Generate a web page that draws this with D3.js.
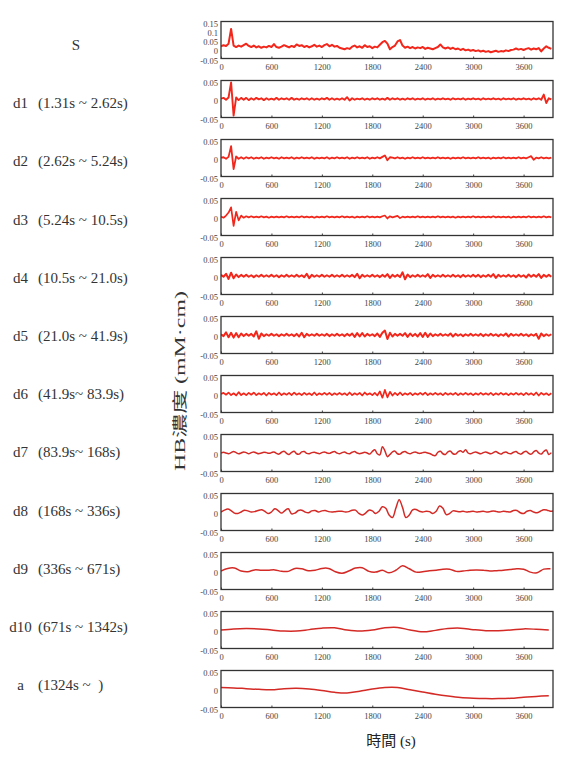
<!DOCTYPE html>
<html>
<head>
<meta charset="utf-8">
<script src="https://cdn.jsdelivr.net/npm/d3@7"></script>
<style>
  body { margin: 0; background: #fff; }
  .tick text { font-family: "Liberation Serif", serif; font-size: 8.5px; fill: #444; }
</style>
</head>
<body>
<svg id="chart" width="563" height="762"></svg>
<script>
// tick values
const xTicks = [0, 600, 1200, 1800, 2400, 3000, 3600];
const yTicksS = [-0.05, 0, 0.05, 0.1, 0.15];
const yTicksD = [-0.05, 0, 0.05];

// row labels
const bandNames = ["S", "d1", "d2", "d3", "d4", "d5", "d6", "d7", "d8", "d9", "d10", "a"];
const bandRanges = ["", "(1.31s ~ 2.62s)", "(2.62s ~ 5.24s)", "(5.24s ~ 10.5s)", "(10.5s ~ 21.0s)",
  "(21.0s ~ 41.9s)", "(41.9s~ 83.9s)", "(83.9s~ 168s)", "(168s ~ 336s)", "(336s ~ 671s)",
  "(671s ~ 1342s)", "(1324s ~  )"];

// sample interval (s) of each row
const steps = [30, 30, 30, 30, 30, 30, 30, 30, 40, 80, 150, 150];

// signals
const sigS = [0.015,0.022,0.018,0.03,0.11,0.02,0.012,0.02,0.014,0.022,0.03,0.018,
  0.012,0.02,0.01,0.016,0.008,0.014,0.01,0.018,0.012,0.028,0.012,0.008,
  0.014,0.022,0.016,0.01,0.018,0.012,0.026,0.018,0.022,0.012,0.018,0.01,
  0.016,0.024,0.014,0.02,0.012,0.022,0.028,0.016,0.024,0.014,0.018,0.008,
  0.004,0.0,0.006,0.002,0.014,0.02,0.01,0.016,0.008,0.022,0.012,0.016,
  0.006,0.014,0.01,0.024,0.038,0.045,0.03,0.0,0.012,0.02,0.042,0.05,
  0.02,0.008,0.014,0.006,0.012,0.004,0.01,0.006,0.012,0.002,0.008,0.004,
  0.0,0.006,0.012,0.026,0.01,0.004,0.01,0.002,0.008,0.0,0.004,-0.004,
  0.002,-0.006,-0.002,-0.008,-0.004,-0.01,-0.006,-0.012,-0.008,-0.014,-0.01,-0.016,
  -0.012,-0.008,-0.014,-0.01,-0.012,-0.006,-0.01,-0.004,-0.002,0.004,-0.002,0.002,
  -0.004,0.002,0.006,-0.002,0.004,0.0,0.006,-0.012,0.004,0.016,0.008,0.002];

const sigD1 = [0.001,0.003,-0.002,0.004,0.045,-0.045,0.004,-0.003,0.003,-0.002,0.003,-0.003,
  0.002,-0.002,0.003,-0.001,0.002,-0.003,0.002,-0.002,0.001,-0.002,0.003,-0.002,
  0.002,-0.001,0.002,-0.002,0.003,-0.002,0.001,-0.002,0.002,-0.001,0.002,-0.002,
  0.002,-0.002,0.001,-0.002,0.002,-0.001,0.003,-0.002,0.002,-0.002,0.001,-0.002,
  0.002,-0.002,0.005,-0.004,0.002,-0.002,0.001,-0.001,0.002,-0.002,0.001,-0.002,
  0.002,-0.001,0.002,-0.002,0.001,-0.002,0.003,-0.002,0.002,-0.001,0.002,-0.002,
  0.001,-0.002,0.002,-0.001,0.002,-0.002,0.001,-0.001,0.002,-0.002,0.001,-0.001,
  0.002,-0.002,0.001,-0.001,0.002,-0.001,0.001,-0.002,0.002,-0.001,0.001,-0.001,
  0.002,-0.002,0.001,-0.001,0.002,-0.001,0.001,-0.002,0.002,-0.001,0.001,-0.001,
  0.002,-0.001,0.001,-0.002,0.002,-0.001,0.001,-0.001,0.002,-0.002,0.001,-0.001,
  0.002,-0.001,0.001,-0.002,0.002,-0.001,0.002,-0.002,0.012,-0.011,0.002,-0.001];

const sigD2 = [0.001,0.002,-0.002,0.003,0.032,-0.03,0.004,-0.002,0.002,-0.002,0.002,-0.001,
  0.002,-0.002,0.001,-0.001,0.002,-0.002,0.001,-0.001,0.002,-0.001,0.001,-0.002,
  0.002,-0.001,0.001,-0.001,0.002,-0.002,0.001,-0.001,0.002,-0.001,0.001,-0.001,
  0.002,-0.002,0.001,-0.001,0.001,-0.001,0.002,-0.002,0.001,-0.001,0.002,-0.001,
  0.001,-0.001,0.002,-0.002,0.001,-0.001,0.002,-0.001,0.001,-0.001,0.002,-0.002,
  0.001,-0.001,0.002,-0.001,0.003,0.007,-0.006,0.002,0.001,-0.001,0.002,-0.001,
  0.001,-0.002,0.001,-0.001,0.002,-0.001,0.001,-0.001,0.002,-0.001,0.001,-0.001,
  0.001,-0.001,0.002,-0.001,0.001,-0.001,0.001,-0.002,0.001,-0.001,0.001,-0.001,
  0.002,-0.001,0.001,-0.001,0.001,-0.001,0.002,-0.001,0.001,-0.001,0.001,-0.002,
  0.001,-0.001,0.001,-0.001,0.002,-0.001,0.001,-0.001,0.001,-0.001,0.002,-0.001,
  0.001,-0.001,0.002,0.005,-0.005,0.001,-0.001,0.002,-0.001,0.001,-0.001,0.001];

const sigD3 = [0.001,-0.002,0.004,0.012,0.026,-0.024,0.014,-0.009,0.004,-0.002,0.002,-0.001,
  0.002,-0.001,0.001,-0.001,0.002,-0.001,0.001,-0.002,0.001,-0.001,0.001,-0.001,
  0.001,-0.001,0.002,-0.001,0.001,-0.001,0.001,-0.001,0.002,-0.001,0.001,-0.001,
  0.001,-0.002,0.001,-0.001,0.001,-0.001,0.002,-0.001,0.001,-0.001,0.001,-0.001,
  0.002,-0.001,0.001,-0.001,0.001,-0.002,0.001,-0.001,0.001,-0.001,0.002,-0.001,
  0.001,-0.001,0.001,-0.001,0.002,0.004,-0.004,0.002,-0.001,0.001,0.003,-0.003,
  0.001,-0.001,0.001,-0.001,0.001,-0.001,0.002,-0.001,0.001,-0.001,0.001,-0.001,
  0.001,-0.001,0.002,-0.001,0.001,-0.001,0.001,-0.001,0.001,-0.002,0.001,-0.001,
  0.001,-0.001,0.001,-0.001,0.002,-0.001,0.001,-0.001,0.001,-0.001,0.001,-0.001,
  0.002,-0.001,0.001,-0.001,0.001,-0.001,0.001,-0.002,0.001,-0.001,0.001,-0.001,
  0.001,-0.001,0.002,-0.001,0.001,-0.001,0.001,-0.001,0.002,-0.001,0.001,-0.001];

const sigD4 = [0.003,-0.002,0.006,-0.008,0.009,-0.006,0.004,-0.003,0.003,-0.002,0.003,-0.002,
  0.002,-0.003,0.002,-0.002,0.003,-0.002,0.002,-0.002,0.003,-0.002,0.002,-0.003,
  0.002,-0.002,0.003,-0.002,0.002,-0.002,0.003,-0.002,0.002,-0.003,0.006,-0.006,
  0.003,-0.002,0.002,-0.002,0.003,-0.002,0.002,-0.002,0.003,-0.002,0.002,-0.002,
  0.003,-0.002,0.002,-0.002,0.003,-0.003,0.006,-0.006,0.003,-0.002,0.002,-0.002,
  0.003,-0.002,0.002,-0.003,0.003,-0.002,0.005,-0.005,0.003,-0.002,0.003,-0.003,
  0.01,-0.009,0.004,-0.003,0.002,-0.002,0.003,-0.002,0.002,-0.002,0.005,-0.005,
  0.003,-0.002,0.002,-0.002,0.003,-0.002,0.002,-0.002,0.003,-0.002,0.002,-0.003,
  0.003,-0.002,0.002,-0.002,0.003,-0.002,0.003,-0.003,0.002,-0.002,0.003,-0.002,
  0.005,-0.005,0.003,-0.002,0.002,-0.002,0.003,-0.002,0.002,-0.003,0.003,-0.002,
  0.002,-0.004,0.004,-0.002,0.003,-0.002,0.005,-0.005,0.003,-0.002,0.003,-0.002];

const sigD5 = [0.002,-0.003,0.007,-0.006,0.006,-0.007,0.005,-0.006,0.004,-0.003,0.003,-0.002,
  0.003,-0.004,0.01,-0.01,0.004,-0.003,0.002,-0.002,0.003,-0.002,0.002,-0.003,
  0.002,-0.002,0.003,-0.002,0.002,-0.003,0.003,-0.004,0.006,-0.006,0.003,-0.002,
  0.002,-0.002,0.003,-0.002,0.002,-0.002,0.003,-0.003,0.002,-0.002,0.003,-0.002,
  0.002,-0.003,0.003,-0.002,0.004,-0.005,0.005,-0.004,0.005,-0.004,0.003,-0.002,
  0.002,-0.003,0.004,-0.005,0.006,0.012,-0.011,0.006,-0.004,0.003,-0.002,0.003,
  -0.002,0.005,-0.005,0.004,-0.003,0.003,-0.004,0.005,-0.005,0.006,-0.005,0.004,
  -0.003,0.002,-0.002,0.003,-0.002,0.002,-0.002,0.004,-0.004,0.003,-0.002,0.002,
  -0.003,0.002,-0.002,0.003,-0.002,0.002,-0.002,0.003,-0.003,0.002,-0.002,0.003,
  -0.002,0.002,-0.003,0.002,-0.002,0.004,-0.004,0.003,-0.002,0.002,-0.002,0.003,
  -0.002,0.002,-0.003,0.002,-0.002,0.003,-0.01,0.004,-0.003,0.002,-0.002,0.002];

const sigD6 = [0.0,0.003,-0.002,0.004,-0.003,0.002,-0.004,0.005,-0.003,0.002,-0.003,0.003,
  -0.002,0.004,-0.003,0.002,-0.002,0.003,-0.004,0.003,-0.002,0.002,-0.003,0.004,
  -0.003,0.002,-0.002,0.003,-0.003,0.004,-0.002,0.002,-0.003,0.003,-0.002,0.002,
  -0.003,0.004,-0.003,0.002,-0.002,0.003,-0.002,0.003,-0.003,0.002,-0.002,0.003,
  -0.002,0.002,-0.003,0.004,-0.003,0.002,-0.002,0.003,-0.004,0.004,-0.002,0.002,
  -0.003,0.003,-0.004,0.007,-0.01,0.011,-0.009,0.006,-0.004,0.003,-0.003,0.004,
  -0.003,0.002,-0.002,0.003,-0.003,0.002,-0.002,0.003,-0.002,0.004,-0.003,0.002,
  -0.002,0.003,-0.002,0.002,-0.003,0.003,-0.002,0.002,-0.002,0.003,-0.003,0.002,
  -0.002,0.003,-0.002,0.002,-0.003,0.002,-0.002,0.003,-0.002,0.002,-0.002,0.003,
  -0.003,0.002,-0.002,0.003,-0.002,0.002,-0.003,0.002,-0.002,0.003,-0.002,0.002,
  -0.003,0.003,-0.002,0.002,-0.003,0.004,-0.004,0.003,-0.002,0.002,-0.003,0.002];

const sigD7 = [0.0,0.002,0.0,-0.002,0.001,0.004,0.001,-0.002,0.0,0.003,0.001,-0.002,
  0.001,0.003,0.0,-0.002,0.0,0.002,0.001,-0.001,0.001,0.003,-0.001,-0.003,
  0.002,0.005,-0.001,-0.004,0.002,0.005,-0.002,-0.003,0.003,0.004,-0.001,-0.002,
  0.001,0.002,0.0,-0.002,0.001,0.003,0.0,-0.001,0.002,0.004,0.0,-0.002,
  0.001,0.003,-0.001,-0.002,0.002,0.004,0.0,-0.002,0.0,0.002,0.0,-0.003,
  0.004,0.009,-0.002,-0.005,0.017,0.006,-0.01,-0.004,0.003,0.005,-0.002,-0.003,
  0.002,0.004,0.0,-0.002,0.001,0.003,0.0,-0.001,0.001,0.002,0.0,-0.002,
  -0.006,-0.007,0.002,0.005,-0.002,-0.004,0.003,0.005,-0.002,-0.003,0.003,0.006,
  0.002,0.009,0.0,-0.002,0.001,0.003,0.0,-0.002,0.001,0.003,0.0,-0.002,
  0.001,0.004,0.0,-0.003,0.001,0.003,-0.001,-0.002,0.002,0.004,-0.001,-0.003,
  0.002,0.005,-0.001,-0.003,0.003,0.007,0.0,-0.003,0.004,0.008,-0.004,0.001];

const sigD8 = [0.0,0.005,0.008,0.004,-0.003,-0.004,0.0,0.005,0.003,0.0,
  0.001,0.004,0.006,0.002,-0.004,0.0,0.009,0.004,-0.003,0.004,
  0.009,-0.005,-0.003,0.004,0.005,0.0,-0.002,0.003,0.004,0.0,
  0.003,0.004,0.001,0.0,0.001,0.002,0.002,0.0,0.001,0.005,
  0.005,-0.004,-0.008,-0.003,0.005,0.003,-0.004,0.002,0.014,0.01,
  -0.008,-0.015,0.01,0.033,0.012,-0.015,-0.008,0.006,0.007,0.002,
  0.0,0.002,0.001,-0.004,0.002,0.016,0.01,-0.007,-0.004,0.003,
  0.002,0.001,0.002,0.0,0.001,0.002,0.0,0.001,0.002,0.0,
  0.001,0.003,0.001,0.0,0.002,0.001,0.0,0.004,0.004,-0.002,
  -0.004,0.002,0.004,0.0,-0.002,0.002,0.006,0.005,0.002,0.003];

const sigD9 = [0.0,0.007,0.008,0.0,-0.002,0.003,0.002,0.002,0.003,-0.001,
  -0.001,0.007,0.006,0.001,0.002,0.007,0.007,-0.002,-0.006,0.0,
  0.008,0.009,-0.001,-0.003,0.002,-0.005,0.002,0.014,0.006,-0.003,
  -0.002,0.001,0.002,0.005,0.005,-0.001,0.0,0.002,0.003,0.002,
  0.0,0.001,0.002,0.004,0.006,0.005,-0.003,-0.005,0.005,0.006];

const sigD10 = [0.0,0.003,0.004,0.003,0.0,-0.003,-0.003,0.001,0.005,0.006,
  0.0,-0.003,0.0,0.006,0.007,0.0,-0.005,-0.001,0.004,0.005,
  0.001,-0.002,-0.002,0.0,0.003,0.002,0.0];

const sigA = [0.004,0.003,0.001,-0.001,-0.002,0.001,0.002,0.0,-0.004,-0.009,
  -0.011,-0.006,0.0,0.004,0.004,-0.002,-0.008,-0.014,-0.019,-0.023,
  -0.025,-0.026,-0.026,-0.025,-0.022,-0.02,-0.018];

const signals = [sigS, sigD1, sigD2, sigD3, sigD4, sigD5, sigD6, sigD7, sigD8, sigD9, sigD10, sigA];

// ---- layout ----
const plotLeft = 221, plotRight = 553;
const firstTop = 21.5, pitch = 59, panelH = 37;
const tMax = 3950;
const lineWidths = [2, 1.9, 1.8, 1.7, 2, 2, 1.7, 1.5, 1.5, 1.5, 1.5, 1.5];

const svg = d3.select("#chart");

const x = d3.scaleLinear().domain([0, tMax]).range([plotLeft, plotRight]);

signals.forEach(function(sig, i) {
  const top = firstTop + i * pitch;
  const isS = i === 0;
  const y = d3.scaleLinear()
    .domain(isS ? [-0.05, 0.15] : [-0.05, 0.05])
    .range([top + panelH, top]);

  const g = svg.append("g").attr("class", "panel");

  // clip
  svg.append("clipPath").attr("id", "clip" + i)
    .append("rect")
    .attr("x", plotLeft).attr("y", top)
    .attr("width", plotRight - plotLeft).attr("height", panelH);

  // x axis
  const xAxis = d3.axisBottom(x).tickValues(xTicks)
    .tickSizeInner(-2).tickSizeOuter(0).tickPadding(5)
    .tickFormat(d3.format("d"));
  g.append("g")
    .attr("transform", "translate(0," + (top + panelH) + ")")
    .call(xAxis)
    .call(a => a.select(".domain").remove())
    .call(a => a.selectAll(".tick line").attr("stroke", "#444"));

  // y axis
  const yAxis = d3.axisLeft(y).tickValues(isS ? yTicksS : yTicksD)
    .tickSize(0).tickPadding(3)
    .tickFormat(d => String(d));
  g.append("g")
    .attr("transform", "translate(" + plotLeft + ",0)")
    .call(yAxis)
    .call(a => a.select(".domain").remove())
    .call(a => a.selectAll(".tick text").attr("dy", "0.55em"));

  // the trace
  const smooth = i >= 7;
  const line = d3.line()
    .x((d, k) => x(k * steps[i]))
    .y(d => y(d))
    .curve(smooth ? d3.curveCatmullRom : d3.curveLinear);

  g.append("path")
    .datum(sig)
    .attr("clip-path", "url(#clip" + i + ")")
    .attr("fill", "none")
    .attr("stroke", smooth ? "#d42a26" : "#f2261a")
    .attr("stroke-width", lineWidths[i])
    .attr("stroke-linejoin", "round")
    .attr("d", line);

  // frame
  g.append("rect")
    .attr("x", plotLeft).attr("y", top)
    .attr("width", plotRight - plotLeft).attr("height", panelH)
    .attr("fill", "none")
    .attr("stroke", "#333")
    .attr("stroke-width", 1.3);

  // row label on the left
  const base = 50 + i * 58.2;
  if (isS) {
    svg.append("text")
      .attr("x", 76).attr("y", base)
      .attr("text-anchor", "middle")
      .style("font-family", "Liberation Serif, serif")
      .style("font-size", "15px")
      .style("fill", "#333")
      .text(bandNames[i]);
  } else {
    svg.append("text")
      .attr("x", 20.5).attr("y", base)
      .attr("text-anchor", "middle")
      .style("font-family", "Liberation Serif, serif")
      .style("font-size", "15px")
      .style("fill", "#333")
      .text(bandNames[i]);
    svg.append("text")
      .attr("x", 38).attr("y", base)
      .style("font-family", "Liberation Serif, serif")
      .style("font-size", "15px")
      .style("fill", "#333")
      .style("white-space", "pre")
      .text(bandRanges[i]);
  }
});

// axis titles
svg.append("text")
  .attr("transform", "translate(185,381) rotate(-90)")
  .attr("text-anchor", "middle")
  .attr("textLength", 180)
  .attr("lengthAdjust", "spacingAndGlyphs")
  .style("font-family", "Liberation Serif, Noto Sans CJK TC, serif")
  .style("font-size", "14.5px")
  .style("font-weight", "normal")
  .style("fill", "#333")
  .text("HB濃度 (mM·cm)");

svg.append("text")
  .attr("x", 391).attr("y", 746)
  .attr("text-anchor", "middle")
  .style("font-family", "Liberation Serif, Noto Sans CJK TC, serif")
  .style("font-size", "15px")
  .style("fill", "#222")
  .text("時間 (s)");
</script>
</body>
</html>
